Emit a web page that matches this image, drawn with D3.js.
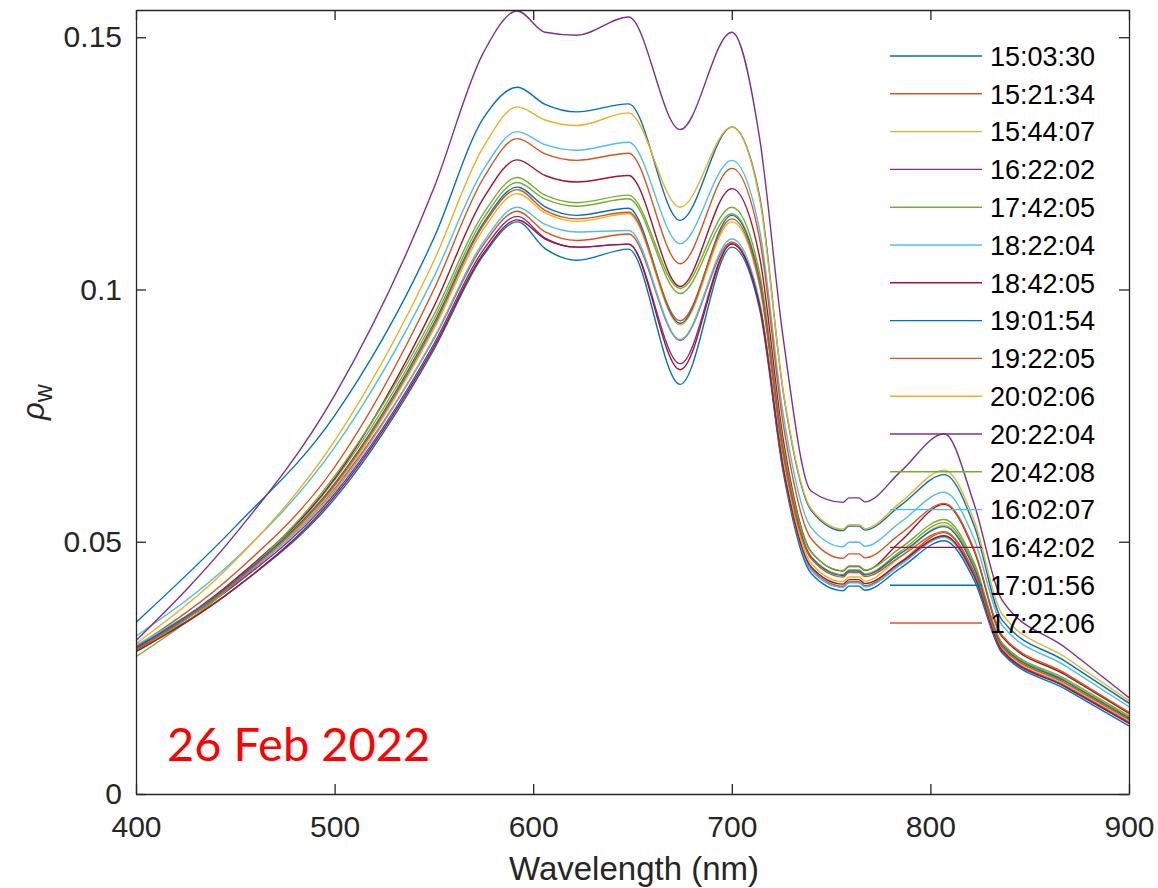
<!DOCTYPE html>
<html>
<head>
<meta charset="utf-8">
<script src="https://cdn.jsdelivr.net/npm/d3@7"></script>
<style>
  html, body { margin: 0; padding: 0; background: #fff; }
  svg { display: block; }
  text { font-family: "Liberation Sans", Arial, sans-serif; }
</style>
</head>
<body>
<svg id="chart" width="1158" height="888"></svg>
<script>
// Wavelength sampling (nm) shared by every spectrum
const wavelengths = [400, 450, 500, 550, 575, 592, 606, 622, 648, 674, 700, 714, 726, 740, 756, 759, 764, 767, 785, 807, 822, 836, 868, 900];

// Water-leaving reflectance per acquisition time
const rho_150330 = [.0285, .0408, .0585, .0881, .1068, .1134, .1081, .1058, .1080, .0812, .1084, .0961, .0635, .0437, .0403, .0412, .0412, .0404, .0448, .0502, .0424, .0280, .0208, .0135];
const rho_152134 = [.0287, .0417, .0605, .0902, .1089, .1155, .1114, .1097, .1110, .0899, .1094, .0971, .0644, .0446, .0412, .0421, .0421, .0413, .0460, .0518, .0437, .0286, .0215, .0143];
const rho_154407 = [.0288, .0419, .0608, .0922, .1120, .1190, .1152, .1135, .1150, .0930, .1134, .1006, .0663, .0457, .0421, .0430, .0430, .0422, .0471, .0533, .0448, .0290, .0218, .0146];
const rho_162202 = [.0290, .0415, .0595, .0892, .1079, .1145, .1102, .1084, .1090, .0853, .1091, .0968, .0642, .0444, .0410, .0419, .0419, .0411, .0455, .0510, .0431, .0283, .0212, .0140];
const rho_174205 = [.0282, .0421, .0622, .0941, .1141, .1212, .1179, .1165, .1180, .0992, .1150, .1021, .0678, .0471, .0435, .0444, .0444, .0436, .0481, .0538, .0454, .0298, .0225, .0152];
const rho_182204 = [.0313, .0466, .0687, .1025, .1238, .1313, .1287, .1276, .1292, .1091, .1256, .1118, .0750, .0528, .0490, .0499, .0499, .0491, .0539, .0598, .0506, .0335, .0254, .0173];
const rho_184205 = [.0288, .0426, .0625, .0966, .1181, .1257, .1226, .1213, .1226, .1006, .1200, .1064, .0700, .0480, .0442, .0451, .0451, .0443, .0501, .0574, .0482, .0312, .0236, .0160];
const rho_190154 = [.0340, .0530, .0750, .1102, .1340, .1401, .1367, .1352, .1368, .1137, .1322, .1185, .0794, .0562, .0522, .0531, .0531, .0523, .0572, .0633, .0532, .0345, .0263, .0180];
const rho_192205 = [.0292, .0438, .0648, .1000, .1221, .1299, .1269, .1256, .1270, .1051, .1240, .1101, .0730, .0506, .0467, .0476, .0476, .0468, .0516, .0576, .0485, .0315, .0239, .0162];
const rho_200206 = [.0298, .0463, .0700, .1057, .1283, .1362, .1336, .1325, .1350, .1163, .1322, .1179, .0796, .0565, .0525, .0534, .0534, .0526, .0578, .0642, .0542, .0357, .0271, .0185];
const rho_202204 = [.0304, .0515, .0790, .1201, .1470, .1552, .1510, .1504, .1540, .1317, .1510, .1300, .0900, .0600, .0578, .0587, .0587, .0579, .0639, .0714, .0575, .0385, .0290, .0191];
const rho_204208 = [.0272, .0419, .0630, .0950, .1151, .1222, .1187, .1172, .1187, .1002, .1163, .1033, .0688, .0479, .0443, .0452, .0452, .0444, .0488, .0544, .0459, .0300, .0228, .0155];
const rho_160207 = [.0295, .0420, .0600, .0904, .1095, .1163, .1129, .1114, .1117, .0901, .1100, .0976, .0645, .0445, .0410, .0419, .0419, .0411, .0455, .0509, .0431, .0285, .0214, .0142];
const rho_164202 = [.0282, .0408, .0590, .0886, .1072, .1138, .1100, .1084, .1090, .0841, .1090, .0969, .0645, .0450, .0416, .0425, .0425, .0417, .0459, .0512, .0433, .0285, .0213, .0141];
const rho_170156 = [.0290, .0423, .0615, .0933, .1132, .1203, .1164, .1147, .1161, .0933, .1147, .1018, .0676, .0469, .0433, .0442, .0442, .0434, .0477, .0530, .0448, .0295, .0223, .0150];
const rho_172206 = [.0286, .0420, .0612, .0928, .1128, .1198, .1157, .1140, .1153, .0938, .1140, .1012, .0671, .0466, .0430, .0439, .0439, .0431, .0471, .0520, .0440, .0292, .0220, .0148];

// Legend labels, in plotting order
const times = ["15:03:30", "15:21:34", "15:44:07", "16:22:02", "17:42:05", "18:22:04", "18:42:05", "19:01:54",
               "19:22:05", "20:02:06", "20:22:04", "20:42:08", "16:02:07", "16:42:02", "17:01:56", "17:22:06"];
const seriesValues = [rho_150330, rho_152134, rho_154407, rho_162202, rho_174205, rho_182204, rho_184205, rho_190154,
                      rho_192205, rho_200206, rho_202204, rho_204208, rho_160207, rho_164202, rho_170156, rho_172206];

// Axis ticks
const xTicks = [400, 500, 600, 700, 800, 900];
const yTicks = [0, 0.05, 0.1, 0.15];
const yTickLabels = ["0", "0.05", "0.1", "0.15"];

// Line colour cycle
const palette = ["#0072BD", "#D95319", "#EDB120", "#7E2F8E", "#77AC30", "#4DBEEE", "#A2142F"];

const svg = d3.select("#chart");
const plot = { left: 136, right: 1129, top: 10, bottom: 794 };

const x = d3.scaleLinear().domain([400, 900]).range([plot.left, plot.right]);
const y = d3.scaleLinear().domain([0, 0.1554]).range([plot.bottom, plot.top]);

svg.append("defs").append("clipPath").attr("id", "plot-clip")
  .append("rect")
  .attr("x", plot.left).attr("y", plot.top)
  .attr("width", plot.right - plot.left).attr("height", plot.bottom - plot.top);

const axisColor = "#262626";
const tickLen = 10;

// Spectra
const line = d3.line()
  .x(d => x(d[0]))
  .y(d => y(d[1]))
  .curve(d3.curveMonotoneX);

const linesG = svg.append("g").attr("clip-path", "url(#plot-clip)");
seriesValues.forEach((vals, i) => {
  linesG.append("path")
    .datum(wavelengths.map((w, k) => [w, vals[k]]))
    .attr("fill", "none")
    .attr("stroke", palette[i % palette.length])
    .attr("stroke-width", 1.4)
    .attr("stroke-linejoin", "round")
    .attr("d", line);
});

// Axes (ticks point inward, box on all four sides)
const bottomAxis = d3.axisBottom(x).tickValues(xTicks).tickSizeInner(-tickLen).tickSizeOuter(0).tickPadding(22);
const leftAxis = d3.axisLeft(y).tickValues(yTicks).tickFormat((d, i) => yTickLabels[i]).tickSizeInner(-tickLen).tickSizeOuter(0).tickPadding(14);
const topAxis = d3.axisTop(x).tickValues(xTicks).tickSizeInner(-tickLen).tickSizeOuter(0).tickFormat("");
const rightAxis = d3.axisRight(y).tickValues(yTicks).tickSizeInner(-tickLen).tickSizeOuter(0).tickFormat("");

function styleAxis(g) {
  g.select(".domain").attr("stroke", axisColor).attr("stroke-width", 1.3);
  g.selectAll(".tick line").attr("stroke", axisColor).attr("stroke-width", 1.3);
  g.selectAll(".tick text")
    .attr("fill", axisColor)
    .style("font-family", "'Liberation Sans', Arial, sans-serif")
    .style("font-size", "30px");
}

svg.append("g").attr("transform", `translate(0,${plot.bottom})`).call(bottomAxis).call(styleAxis);
svg.append("g").attr("transform", `translate(${plot.left},0)`).call(leftAxis).call(styleAxis);
svg.append("g").attr("transform", `translate(0,${plot.top})`).call(topAxis).call(styleAxis);
svg.append("g").attr("transform", `translate(${plot.right},0)`).call(rightAxis).call(styleAxis);

// Axis titles
svg.append("text")
  .attr("x", 634)
  .attr("y", 880)
  .attr("text-anchor", "middle")
  .attr("fill", axisColor)
  .style("font-size", "33px")
  .text("Wavelength (nm)");

const yLabel = svg.append("text")
  .attr("transform", `translate(44,${(plot.top + plot.bottom) / 2}) rotate(-90)`)
  .attr("text-anchor", "middle")
  .attr("fill", axisColor)
  .style("font-size", "31px");
yLabel.append("tspan").style("font-style", "italic").text("ρ");
yLabel.append("tspan").attr("baseline-shift", "-30%").style("font-size", "25px").text("w");

// Legend (no frame)
const legendG = svg.append("g");
times.forEach((t, i) => {
  const yy = 56 + i * 37.8;
  legendG.append("line")
    .attr("x1", 890).attr("x2", 982)
    .attr("y1", yy).attr("y2", yy)
    .attr("stroke", palette[i % palette.length])
    .attr("stroke-width", 1.4);
  legendG.append("text")
    .attr("x", 990).attr("y", yy)
    .attr("dy", "0.36em")
    .attr("fill", "#000")
    .style("font-size", "27px")
    .text(t);
});

// Date annotation
svg.append("text")
  .attr("x", 167).attr("y", 761)
  .attr("fill", "#FF0000")
  .style("font-family", "Lato, 'Open Sans', sans-serif")
  .style("font-size", "47px")
  .text("26 Feb 2022");
</script>
</body>
</html>
